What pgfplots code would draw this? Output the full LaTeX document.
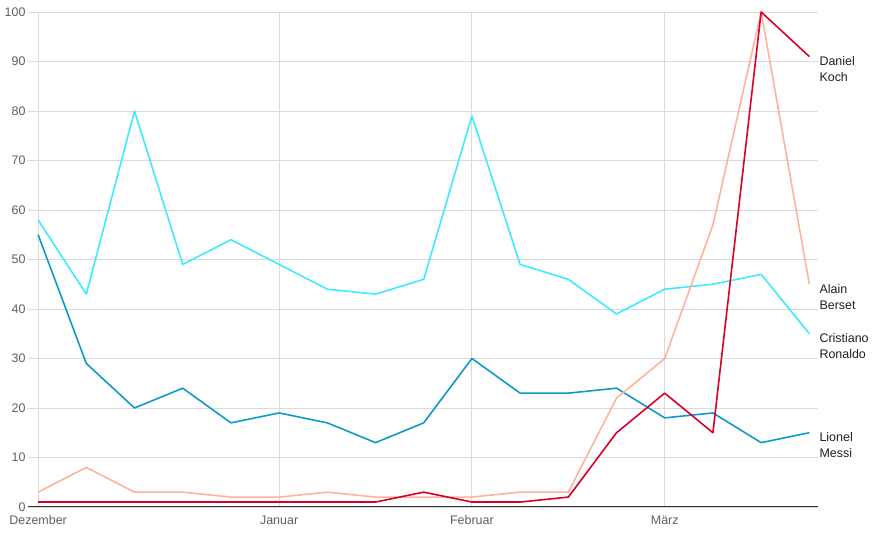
\documentclass[border=0pt]{standalone}
\usepackage{pgfplots}
\pgfplotsset{compat=1.18}
\usepackage{fontspec}
\setmainfont{Liberation Sans}
\definecolor{ronaldo}{HTML}{3DEBFF}
\definecolor{messi}{HTML}{0E9AC8}
\definecolor{berset}{HTML}{FFB39B}
\definecolor{koch}{HTML}{D80027}
\definecolor{gridc}{HTML}{DADADA}
\definecolor{tickc}{HTML}{5F5F5F}
\begin{document}
\begin{tikzpicture}[x=1bp,y=1bp]
\useasboundingbox (0,0) rectangle (873,535);
\begin{axis}[
  at={(28bp,28bp)}, anchor=south west,
  scale only axis, width=790bp, height=495bp,
  xmin=-0.21, xmax=16.18, ymin=0, ymax=100,
  axis x line*=bottom, axis y line*=left,
  x axis line style={color=black!80, line width=1pt, -},
  y axis line style={draw=none},
  xtick={0,5,9,13},
  xticklabels={Dezember,Januar,Februar,März},
  ytick={0,10,...,100},
  xmajorgrids, ymajorgrids,
  grid style={gridc, line width=0.9pt},
  major tick length=0pt,
  tick label style={font=\fontsize{12.5}{14}\selectfont, text=tickc},
  xticklabel style={yshift=-5bp},
  yticklabel style={xshift=1bp},
  /pgf/number format/assume math mode=true,
  clip=false,
  every axis plot/.append style={line width=1.6pt, line join=round, mark=none},
]
\addplot[messi] coordinates {
(0,55)(1,29)(2,20)(3,24)(4,17)(5,19)(6,17)(7,13)(8,17)(9,30)(10,23)(11,23)(12,24)(13,18)(14,19)(15,13)(16,15)};
\addplot[ronaldo] coordinates {
(0,58)(1,43)(2,80)(3,49)(4,54)(5,49)(6,44)(7,43)(8,46)(9,79)(10,49)(11,46)(12,39)(13,44)(14,45)(15,47)(16,35)};
\addplot[berset] coordinates {
(0,3)(1,8)(2,3)(3,3)(4,2)(5,2)(6,3)(7,2)(8,2)(9,2)(10,3)(11,3)(12,22)(13,30)(14,57)(15,100)(16,45)};
\addplot[koch] coordinates {
(0,1)(1,1)(2,1)(3,1)(4,1)(5,1)(6,1)(7,1)(8,3)(9,1)(10,1)(11,2)(12,15)(13,23)(14,15)(15,100)(16,91)};
\tikzset{lab/.style={anchor=north west, align=left, inner sep=0pt, font=\fontsize{12.5}{16}\selectfont, text=black!88, xshift=10bp, yshift=0bp}}
\node[lab] at (axis cs:16,91) {Daniel\\Koch};
\node[lab] at (axis cs:16,45) {Alain\\Berset};
\node[lab] at (axis cs:16,35) {Cristiano\\Ronaldo};
\node[lab] at (axis cs:16,15) {Lionel\\Messi};
\end{axis}
\end{tikzpicture}
\end{document}
